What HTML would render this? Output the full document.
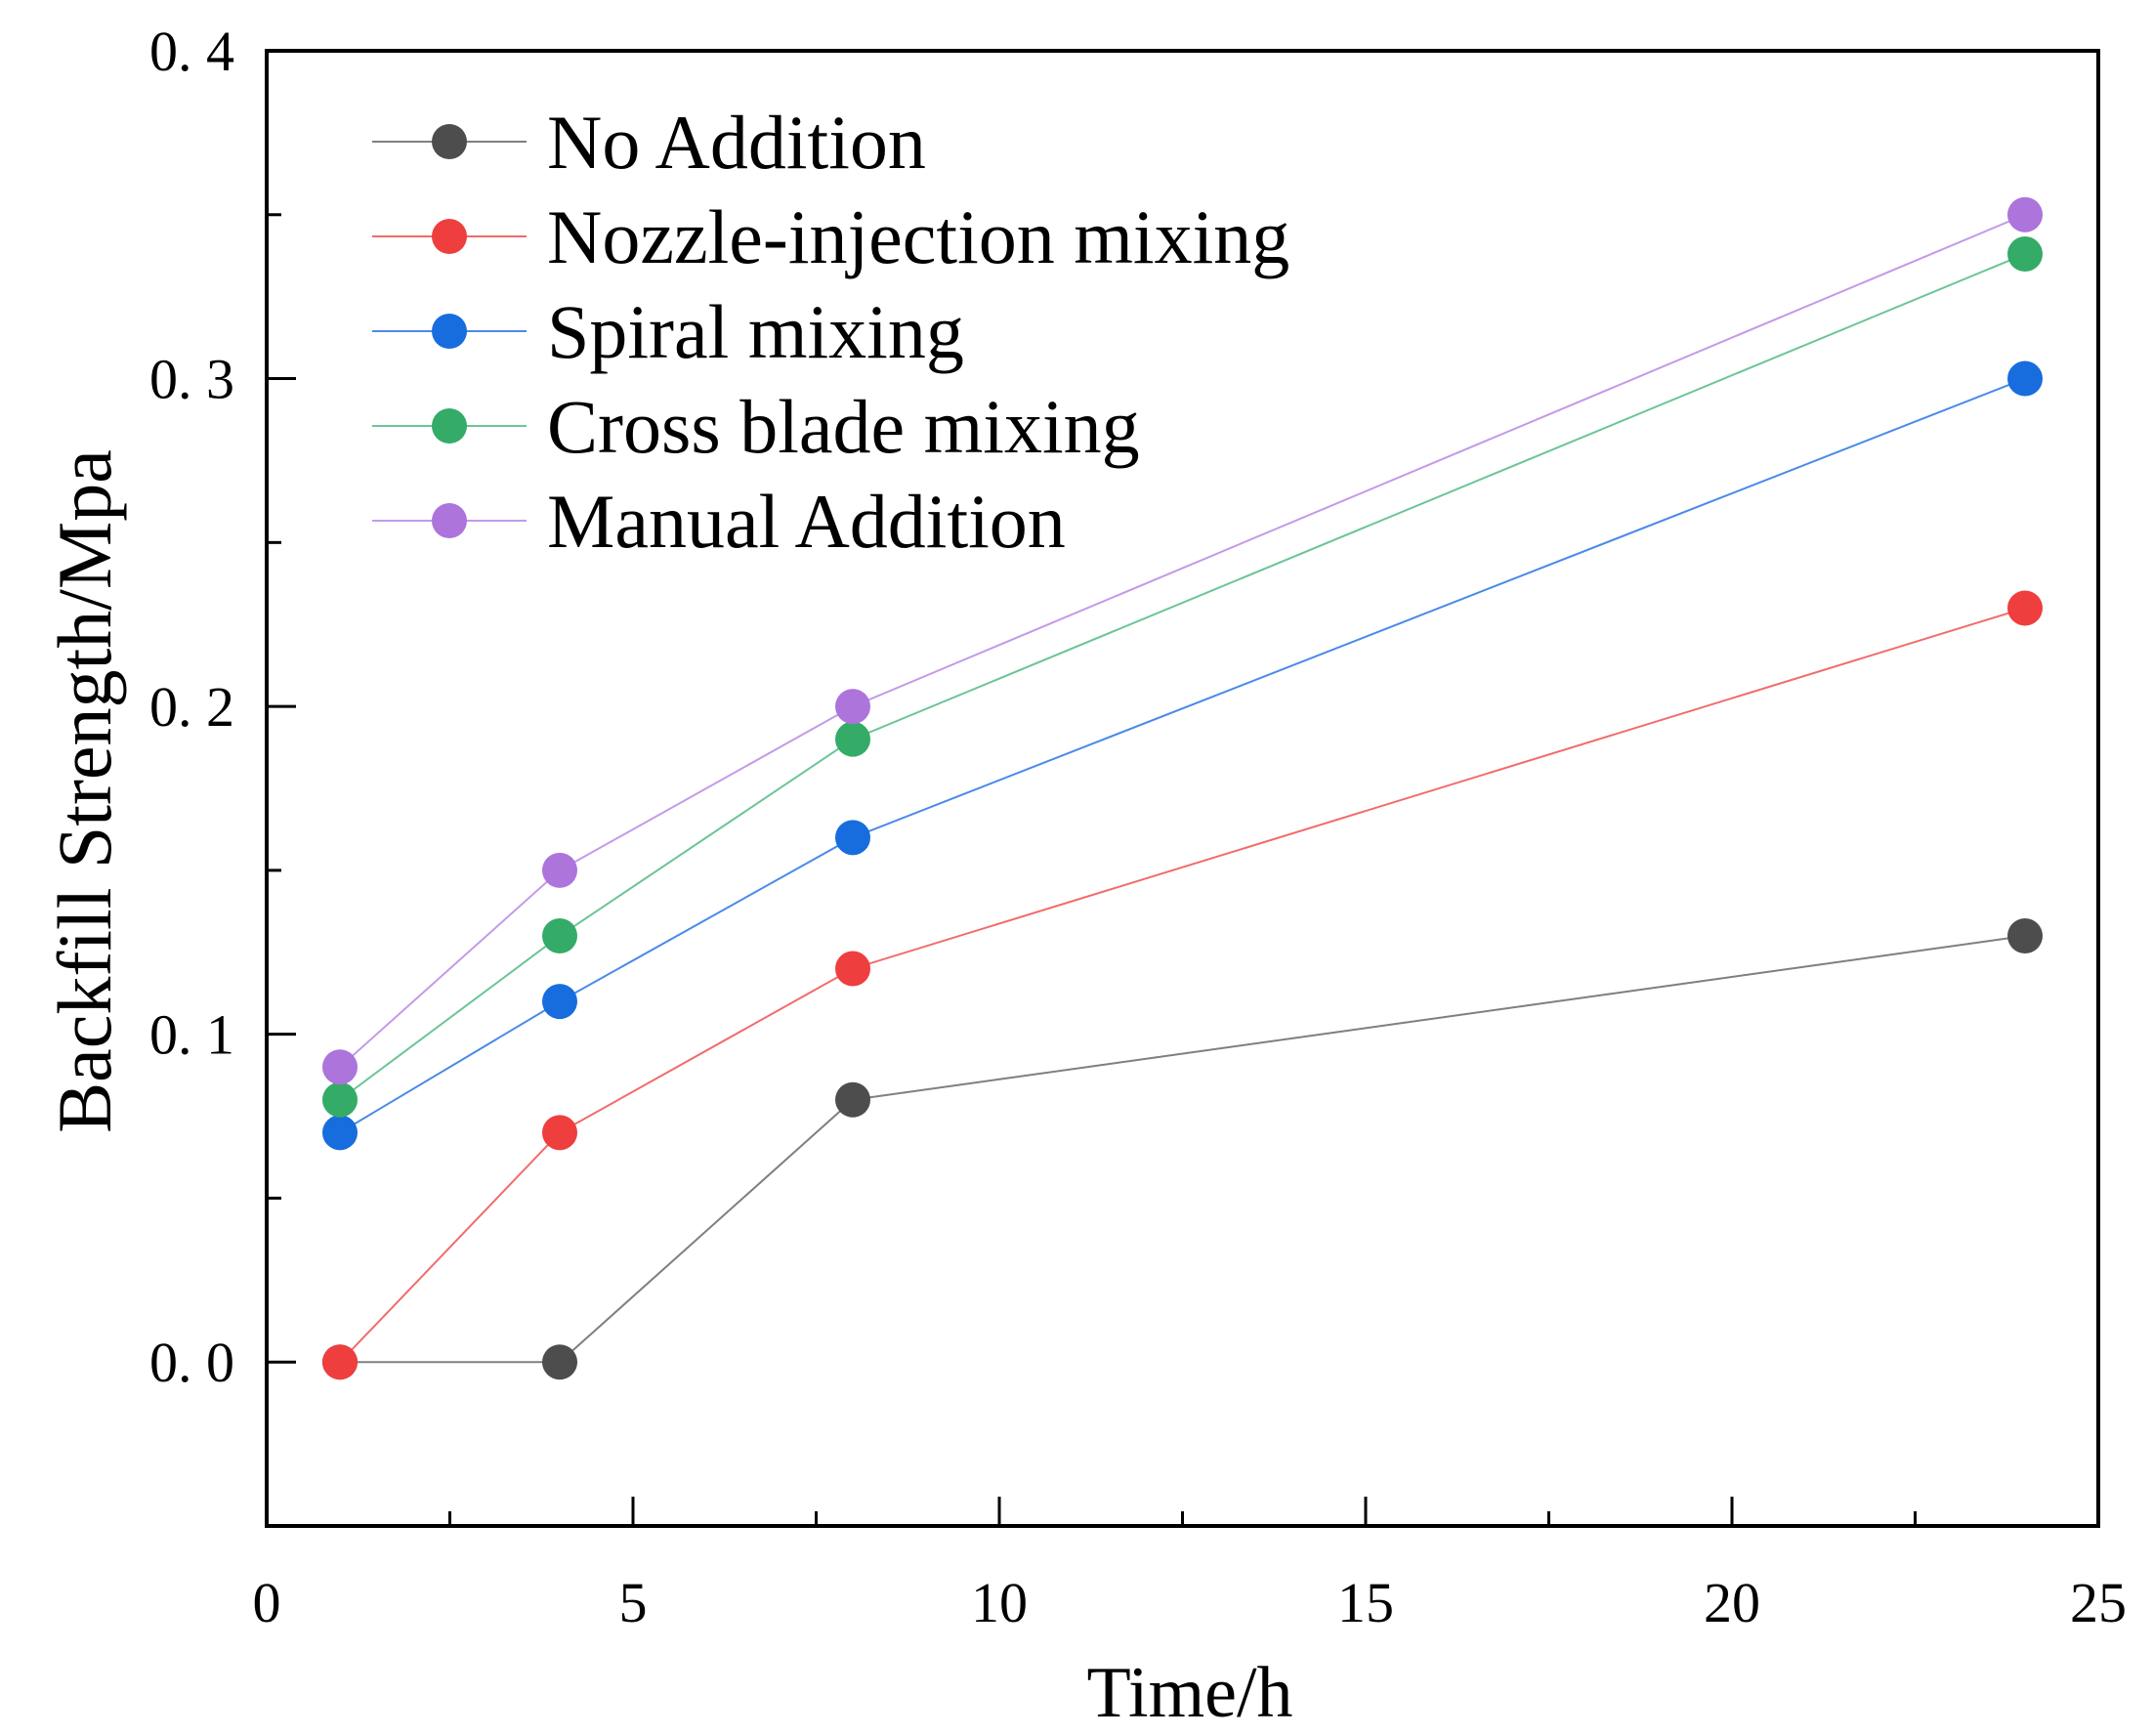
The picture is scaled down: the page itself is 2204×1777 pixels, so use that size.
<!DOCTYPE html>
<html><head><meta charset="utf-8"><style>
html,body{margin:0;padding:0;background:#fff;}
svg{display:block;}
text{font-family:"Liberation Serif","Noto Serif CJK SC",serif;fill:#000;}
</style></head><body>
<svg id="chart" width="2204" height="1777" viewBox="0 0 2204 1777">
<g id="plot"></g>
</svg>
<script>
const categories = [1, 4, 8, 24];
const seriesNames = ["No Addition","Nozzle-injection mixing","Spiral mixing","Cross blade mixing","Manual Addition"];
const noAddition = [0, 0, 0.08, 0.13];
const nozzleMixing = [0, 0.07, 0.12, 0.23];
const spiralMixing = [0.07, 0.11, 0.16, 0.30];
const crossBladeMixing = [0.08, 0.13, 0.19, 0.338];
const manualAddition = [0.09, 0.15, 0.20, 0.35];
const xTicks = [0, 5, 10, 15, 20, 25];
const yTicks = [0.0, 0.1, 0.2, 0.3, 0.4];
const yTickLabels = ["0. 0","0. 1","0. 2","0. 3","0. 4"];

const seriesData = [noAddition, nozzleMixing, spiralMixing, crossBladeMixing, manualAddition];
const lineColors = ["#7f7f7f","#f26b6b","#4a8ae8","#6cc596","#c39ae8"];
const markerColors = ["#4d4d4d","#ef3e3e","#176ddd","#35ab68","#ad74dc"];
const NS = "http://www.w3.org/2000/svg";
const L = 273, R = 2148, T = 52, B = 1562;
const xMin = 0, xMax = 25, yMin = -0.05, yMax = 0.4;
const xs = v => L + (v - xMin) / (xMax - xMin) * (R - L);
const ys = v => B - (v - yMin) / (yMax - yMin) * (B - T);
const g = document.getElementById('plot');
function mk(tag, attrs, parent) {
  const e = document.createElementNS(NS, tag);
  for (const k in attrs) e.setAttribute(k, attrs[k]);
  (parent || g).appendChild(e);
  return e;
}
seriesData.forEach((vals, si) => {
  const sg = mk('g', {});
  
  
  const pts = vals.map((v, i) => xs(categories[i]) + ',' + ys(v)).join(' ');
  const pl = mk('polyline', {points: pts, fill: 'none', stroke: lineColors[si], 'stroke-width': 2}, sg);
  
  
  vals.forEach((v, i) => {
    const c = mk('circle', {cx: xs(categories[i]), cy: ys(v), r: 18, fill: markerColors[si]}, sg);
    
    
  });
});
const frame = mk('rect', {x: L, y: T, width: R - L, height: B - T, fill: 'none', stroke: '#000', 'stroke-width': 4});


for (let v = 0; v <= 25; v += 2.5) {
  const major = v % 5 === 0;
  const t = mk('line', {x1: xs(v), x2: xs(v), y1: B, y2: B - (major ? 30 : 15), stroke: '#000', 'stroke-width': 3});
  
  
}
xTicks.forEach(v => {
  const t = mk('text', {x: xs(v), y: 1660, 'font-size': 58, 'text-anchor': 'middle'});
  t.textContent = v;
  
  
});
for (let k = -1; k <= 8; k++) {
  const v = k * 0.05;
  const major = k % 2 === 0;
  const t = mk('line', {x1: L, x2: L + (major ? 30 : 15), y1: ys(v), y2: ys(v), stroke: '#000', 'stroke-width': 3});
  
  
}
yTicks.forEach((v, i) => {
  const t = mk('text', {x: 240, y: ys(v) + 20, 'font-size': 58, 'text-anchor': 'end'});
  t.textContent = yTickLabels[i];
  
  
});
const xt = mk('text', {x: 1218, y: 1757, 'font-size': 74, 'text-anchor': 'middle'});
xt.textContent = 'Time/h';


const yt = mk('text', {x: 0, y: 0, 'font-size': 78, 'text-anchor': 'middle', transform: 'translate(113,810) rotate(-90)'});
yt.textContent = 'Backfill Strength/Mpa';


const lg = mk('g', {});


seriesNames.forEach((n, i) => {
  const y = 145 + i * 97;
  const e = mk('g', {}, lg);
  
  
  mk('line', {x1: 381, x2: 539, y1: y, y2: y, stroke: lineColors[i], 'stroke-width': 2}, e);
  mk('circle', {cx: 460, cy: y, r: 18, fill: markerColors[i]}, e);
  const t = mk('text', {x: 560, y: y + 27, 'font-size': 78}, e);
  t.textContent = n;
});
</script>
</body></html>
